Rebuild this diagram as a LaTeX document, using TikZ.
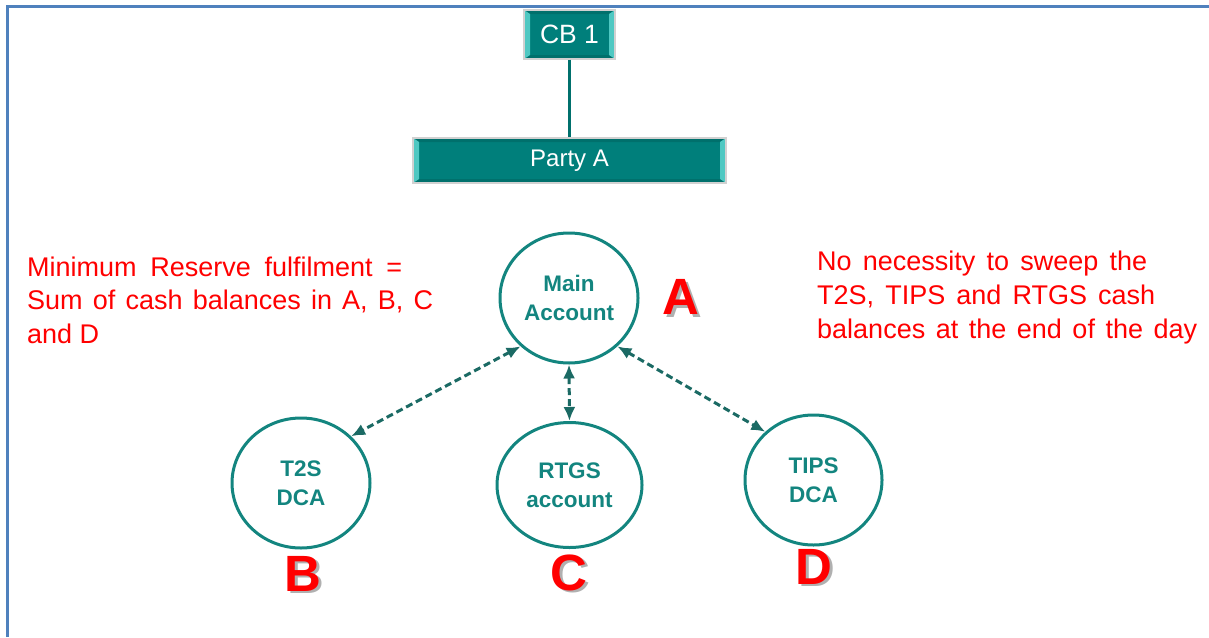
\documentclass[tikz,border=0pt]{standalone}
\usepackage{fontspec}
\setmainfont{Liberation Sans}
\usetikzlibrary{shapes.geometric,arrows.meta,calc}
\definecolor{tealbox}{HTML}{007F7B}
\definecolor{teallight}{HTML}{4FC8C2}
\definecolor{tealdark}{HTML}{00706C}
\definecolor{ringc}{HTML}{13857F}
\definecolor{arrc}{HTML}{1B6A64}
\definecolor{framec}{HTML}{4F81BD}
\definecolor{redt}{HTML}{FF0000}
\definecolor{shadowc}{HTML}{B0B0B0}
\newcommand{\shadowed}[1]{\rlap{\kern2.5pt\raisebox{-2.5pt}{\textcolor{shadowc}{#1}}}#1}
\begin{document}
\begin{tikzpicture}[x=1pt,y=-1pt,
  bevelbox/.style={fill=tealbox, draw=black!18, line width=1.2pt, inner sep=0pt, text=white,
    path picture={
      \fill[tealdark] (path picture bounding box.north west) -- (path picture bounding box.north east)
        -- ($(path picture bounding box.north east)+(-6pt,-4pt)$) -- ($(path picture bounding box.north west)+(6pt,-4pt)$) -- cycle;
      \fill[tealdark] (path picture bounding box.south west) -- (path picture bounding box.south east)
        -- ($(path picture bounding box.south east)+(-6pt,4pt)$) -- ($(path picture bounding box.south west)+(6pt,4pt)$) -- cycle;
      \fill[teallight] (path picture bounding box.north west) -- ($(path picture bounding box.north west)+(6pt,-4pt)$)
        -- ($(path picture bounding box.south west)+(6pt,4pt)$) -- (path picture bounding box.south west) -- cycle;
      \fill[teallight] (path picture bounding box.north east) -- ($(path picture bounding box.north east)+(-6pt,-4pt)$)
        -- ($(path picture bounding box.south east)+(-6pt,4pt)$) -- (path picture bounding box.south east) -- cycle;
    }},
  acct/.style={ellipse, draw=ringc, line width=3pt, inner sep=0pt, align=center,
    text=ringc, font=\bfseries\fontsize{22.5}{29}\selectfont},
  link/.style={arrc, line width=3pt, dash pattern=on 7pt off 4pt,
    {Latex[length=14pt,width=12pt]}-{Latex[length=14pt,width=12pt]}},
  bigletter/.style={text=redt, font=\bfseries\fontsize{51}{51}\selectfont, inner sep=0pt},
  redtext/.style={text=redt, font=\fontsize{27}{34}\selectfont, inner sep=0pt, anchor=base west}
]
\useasboundingbox (0,0) rectangle (1209,637);
\draw[framec, line width=3pt] (7,637) -- (7,6) -- (1209,6);

% boxes
\node[bevelbox, minimum width=91pt, minimum height=49pt, font=\fontsize{26.5}{30}\selectfont] (cb) at (569.5,34.5) {CB 1};
\node[bevelbox, minimum width=313pt, minimum height=45pt, font=\fontsize{24}{28}\selectfont] (party) at (569.5,160.5) {Party A};
\draw[tealdark, line width=3.5pt] (cb.south) -- (party.north);

% accounts
\node[acct, minimum width=138pt, minimum height=130pt] (main) at (569,298) {Main\\Account};
\node[acct, minimum width=138pt, minimum height=130pt] (t2s) at (301,483) {T2S\\DCA};
\node[acct, minimum width=145pt, minimum height=125pt] (rtgs) at (569.5,485) {RTGS\\account};
\node[acct, minimum width=137pt, minimum height=130pt] (tips) at (813.5,480) {TIPS\\DCA};

\draw[link] (main.225) -- (t2s.43);
\draw[link] (main.south) -- (rtgs.north);
\draw[link] (main.-45) -- (tips.135);

% letters
\node[bigletter] (lA) at (681,298.5) {\shadowed{A}};
\node[bigletter] (lB) at (303,575) {\shadowed{B}};
\node[bigletter] (lC) at (569,574) {\shadowed{C}};
\node[bigletter] (lD) at (814,568) {\shadowed{D}};

% texts
\node[redtext] (l1) at (27,276) {\makebox[375pt][s]{Minimum Reserve fulfilment =}};
\node[redtext] (l2) at (27,309.5) {\makebox[406pt][s]{Sum of cash balances in A, B, C}};
\node[redtext] (l3) at (27,343) {and D};
\node[redtext] (r1) at (817,270) {\makebox[330pt][s]{No necessity to sweep the}};
\node[redtext] (r2) at (817,304) {\makebox[338pt][s]{T2S, TIPS and RTGS cash}};
\node[redtext] (r3) at (817,338) {\makebox[380pt][s]{balances at the end of the day}};
\end{tikzpicture}
\end{document}
